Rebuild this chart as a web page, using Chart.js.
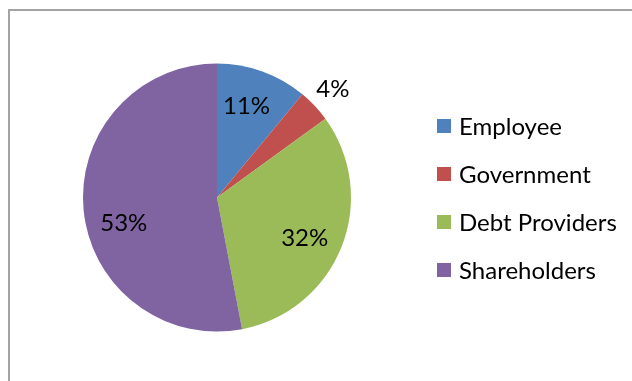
<!DOCTYPE html>
<html>
<head>
<meta charset="utf-8">
<script src="https://cdn.jsdelivr.net/npm/chart.js@4/dist/chart.umd.min.js"></script>
<style>
  body { margin: 0; background: #fff; }
  #wrap { position: relative; width: 632px; height: 381px; overflow: hidden; }
  #frame { position: absolute; left: 8px; top: 9px; width: 700px; height: 500px;
           border-top: 2px solid #a3a3a3; border-left: 2px solid #a3a3a3; }
  canvas { position: absolute; left: 0; top: 0; }
</style>
</head>
<body>
<div id="wrap">
  <div id="frame"></div>
  <canvas id="grafico" width="632" height="381"></canvas>
</div>
<script>
const categorias = ['Employee', 'Government', 'Debt Providers', 'Shareholders'];
const percentuais = [11, 4, 32, 53];
const cores = ['#4F81BD', '#C0504D', '#9BBB59', '#8064A2'];

const fonte = 'Lato, "Open Sans", sans-serif';
// pequeno desvio angular (graus) de cada rótulo em relação ao meio da fatia
const desvioRotulo = [-2, 0, 3, -9.5];

// rótulos de porcentagem sobre as fatias
const rotulosFatias = {
    id: 'rotulosFatias',
    afterDatasetsDraw(chart) {
        const ctx = chart.ctx;
        const meta = chart.getDatasetMeta(0);
        ctx.save();
        ctx.font = '24px ' + fonte;
        ctx.fillStyle = '#000';
        ctx.textAlign = 'center';
        ctx.textBaseline = 'middle';
        meta.data.forEach((arco, i) => {
            const meio = (arco.startAngle + arco.endAngle) / 2 + desvioRotulo[i] * Math.PI / 180;
            const fora = percentuais[i] < 6;
            const r = fora ? arco.outerRadius + 25 : arco.outerRadius * 0.72;
            const x = arco.x + Math.cos(meio) * r;
            const y = arco.y + Math.sin(meio) * r;
            ctx.fillText(percentuais[i] + '%', x, y + 1);
        });
        ctx.restore();
    }
};

// legenda à direita
const legenda = {
    id: 'legenda',
    afterDraw(chart) {
        const ctx = chart.ctx;
        ctx.save();
        ctx.font = '24px ' + fonte;
        ctx.textBaseline = 'middle';
        chart.data.labels.forEach((nome, i) => {
            const y = 126 + i * 48;
            ctx.fillStyle = chart.data.datasets[0].backgroundColor[i];
            ctx.fillRect(437, y - 7, 14, 14);
            ctx.fillStyle = '#000';
            ctx.fillText(nome, 459, y + 1);
        });
        ctx.restore();
    }
};

const grafico = new Chart(document.getElementById('grafico'), {
    type: 'pie',
    data: {
        labels: categorias,
        datasets: [{
            data: percentuais,
            backgroundColor: cores,
            borderWidth: 0
        }]
    },
    options: {
        responsive: false,
        animation: false,
        layout: { padding: { left: 83, right: 281, top: 63, bottom: 49 } },
        plugins: {
            legend: { display: false },
            tooltip: { enabled: false }
        }
    },
    plugins: [rotulosFatias, legenda]
});
</script>
</body>
</html>
